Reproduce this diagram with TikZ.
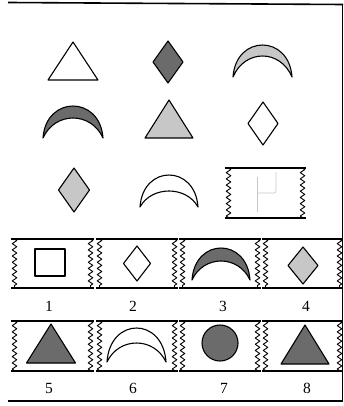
\documentclass[tikz,border=0pt]{standalone}
\usepackage{fontspec}
\setmainfont{Liberation Serif}
\usetikzlibrary{decorations.pathmorphing}
\definecolor{darkfill}{gray}{0.42}
\definecolor{lightfill}{gray}{0.78}
\tikzset{
 shp/.style={draw=black, line width=1.1pt, line join=round},
 dk/.style={fill=darkfill},
 lt/.style={fill=lightfill},
 wt/.style={fill=white},
 rulebar/.style={line width=1.8pt},
 zedge/.style={line width=0.9pt, line join=round, decorate, decoration={zigzag, segment length=6.2pt, amplitude=2.3pt}},
 lab/.style={font=\fontsize{15.5}{17}\selectfont, inner sep=0pt},
 faint/.style={draw=gray!45, line width=0.7pt},
}
% apex x, apex y, base y, half width
\newcommand\mytri[5][]{\path[shp,#1] (#2,#3) -- ({#2+#5},#4) -- ({#2-#5},#4) -- cycle;}
% centre x, centre y, half width, half height
\newcommand\mydia[5][]{\path[shp,#1] (#2,{#3-#5}) -- ({#2+#4},#3) -- (#2,{#3+#5}) -- ({#2-#4},#3) -- cycle;}
% left tip x, right tip x, tip y, outer top y, inner top y
\newcommand\mycres[6][]{\path[shp,#1] (#2,#4)
  .. controls ({#2+0.05*(#3-#2)},{#4-1.333*(#4-#5)}) and ({#3-0.05*(#3-#2)},{#4-1.333*(#4-#5)}) .. (#3,#4)
  .. controls ({#3-0.2*(#3-#2)},{#4-1.333*(#4-#6)}) and ({#2+0.2*(#3-#2)},{#4-1.333*(#4-#6)}) .. (#2,#4) -- cycle;}
% x1, y1, x2, y2
\newcommand\myzbox[4]{%
  \draw[rulebar] ({#1-1},#2) -- ({#3+1},#2);
  \draw[rulebar] ({#1-1},#4) -- ({#3+1},#4);
  \draw[zedge] ({#1+2.5},#2) -- ({#1+2.5},#4);
  \draw[zedge] ({#3-2.5},#2) -- ({#3-2.5},#4);}
\begin{document}
\begin{tikzpicture}[x=1pt,y=-1pt]
\useasboundingbox (0,0) rectangle (343,406);
% frame
\draw[line width=1.6pt] (8,2.5) -- (343,4.5);
\draw[line width=1.6pt] (8,401) -- (343,401);
\draw[line width=0.8pt] (342.3,4) -- (342.3,401);
% row 1
\mytri[wt]{73}{42}{80}{25}
\mydia[dk]{168}{62}{15}{21}
\mycres[lt]{233}{292}{77}{45}{56}
% row 2
\mycres[dk]{43}{103}{138}{106}{118}
\mytri[lt]{169}{100}{138}{24}
\mydia[wt]{263}{123.5}{15}{21.5}
% row 3
\mydia[lt]{74}{190}{15.5}{22}
\mycres[wt]{140}{198}{207}{175}{191}
\myzbox{226}{168}{305}{218}
\draw[faint] (257,177) -- (257,212);
\draw[faint] (276,172) -- (276,188) .. controls (276,193) .. (271,193) -- (257,193);
% answer boxes row A
\myzbox{12}{239}{93}{288}
\myzbox{97}{239}{177}{288}
\myzbox{180}{239}{260}{288}
\myzbox{263}{239}{342}{288}
\draw[shp,wt] (35,249) rectangle (65,276);
\mydia[wt]{137}{263.5}{13.5}{17.5}
\mycres[dk]{192}{250}{280}{248}{261}
\mydia[lt]{303}{265.5}{15}{18.5}
\node[lab] (l1) at (49,306.5) {1};
\node[lab] (l2) at (133,306.5) {2};
\node[lab] (l3) at (223,306.5) {3};
\node[lab] (l4) at (306,306.5) {4};
% answer boxes row B
\myzbox{12}{321}{93}{371}
\myzbox{97}{321}{177}{371}
\myzbox{180}{321}{260}{371}
\myzbox{263}{321}{342}{371}
\mytri[dk]{51}{324}{363}{24.5}
\mycres[wt]{107}{166}{362}{328}{343}
\draw[shp,dk] (220,343) circle (18);
\mytri[dk]{305}{325}{364}{24}
\node[lab] (l5) at (49,388) {5};
\node[lab] (l6) at (133,388) {6};
\node[lab] (l7) at (224,388) {7};
\node[lab] (l8) at (307,388) {8};
\end{tikzpicture}
\end{document}
